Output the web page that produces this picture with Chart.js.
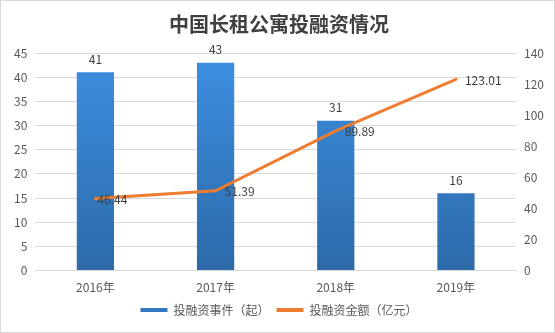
<!DOCTYPE html>
<html>
<head>
<meta charset="utf-8">
<script src="https://cdn.jsdelivr.net/npm/chart.js@4/dist/chart.umd.min.js"></script>
<style>
  html, body { margin: 0; padding: 0; background: #fff; }
  #wrap { width: 555px; height: 333px; position: relative; }
</style>
</head>
<body>
<div id="wrap"><canvas id="chart"></canvas></div>
<script>
const years = ['2016年', '2017年', '2018年', '2019年'];
const dealCounts = [41, 43, 31, 16];
const dealAmounts = [46.44, 51.39, 89.89, 123.01];
const leftTicks = { min: 0, max: 45, step: 5 };
const rightTicks = { min: 0, max: 140, step: 20 };

const FONT = '"Noto Sans CJK SC", "Microsoft YaHei", sans-serif';
const TEXT = '#595959';
const GRID = '#d9d9d9';

function barGradient(ctx) {
  const area = ctx.chart.chartArea;
  if (!area) return '#3a85d4';
  const g = ctx.chart.ctx.createLinearGradient(0, area.top, 0, area.bottom);
  g.addColorStop(0, '#3d8fe2');
  g.addColorStop(1, '#2d6aa9');
  return g;
}

// outer frame
const frame = {
  id: 'frame',
  beforeDraw(chart) {
    const c = chart.ctx;
    c.save();
    c.fillStyle = '#fff';
    c.fillRect(0, 0, chart.width, chart.height);
    c.strokeStyle = GRID;
    c.lineWidth = 1;
    c.strokeRect(0.5, 0.5, chart.width - 1, chart.height - 1);
    c.restore();
  }
};

// value labels on bars and line points
const valueLabels = {
  id: 'valueLabels',
  afterDatasetsDraw(chart) {
    const c = chart.ctx;
    c.save();
    c.font = '12px ' + FONT;
    c.fillStyle = '#404040';
    c.textBaseline = 'middle';
    chart.getDatasetMeta(0).data.forEach((bar, i) => {
      c.textAlign = 'center';
      c.fillText(String(dealCounts[i]), bar.x, bar.y - 13);
    });
    chart.getDatasetMeta(1).data.forEach((pt, i) => {
      c.textAlign = 'left';
      const dx = i === 0 ? 2 : 9;
      c.fillText(dealAmounts[i].toFixed(2), pt.x + dx, pt.y + 1);
    });
    c.restore();
  }
};

new Chart(document.getElementById('chart'), {
  data: {
    labels: years,
    datasets: [
      {
        type: 'bar',
        label: '投融资事件（起）',
        data: dealCounts,
        yAxisID: 'y',
        backgroundColor: barGradient,
        categoryPercentage: 1,
        barPercentage: 0.31,
        order: 2
      },
      {
        type: 'line',
        label: '投融资金额（亿元）',
        data: dealAmounts,
        yAxisID: 'y1',
        borderColor: '#ed7d31',
        backgroundColor: '#ed7d31',
        borderWidth: 3,
        borderCapStyle: 'round',
        pointRadius: 0,
        tension: 0,
        order: 1
      }
    ]
  },
  options: {
    responsive: true,
    maintainAspectRatio: false,
    animation: false,
    layout: { padding: { left: 6, right: 3, top: 10, bottom: 7 } },
    plugins: {
      title: {
        display: true,
        text: '中国长租公寓投融资情况',
        color: '#404040',
        font: { family: FONT, size: 20, weight: 'bold' },
        padding: { top: 2, bottom: 17 }
      },
      legend: {
        position: 'bottom',
        labels: {
          color: TEXT,
          font: { family: FONT, size: 12 },
          boxWidth: 27,
          boxHeight: 4,
          padding: 7,
          generateLabels(chart) {
            return chart.data.datasets.map((ds, i) => ({
              text: ds.label,
              fillStyle: i === 0 ? '#3478c4' : '#ed7d31',
              strokeStyle: i === 0 ? '#3478c4' : '#ed7d31',
              lineWidth: 0,
              datasetIndex: i,
              fontColor: TEXT
            }));
          }
        }
      },
      tooltip: { enabled: false }
    },
    scales: {
      x: {
        grid: { display: false },
        border: { display: true, color: GRID },
        ticks: { color: TEXT, font: { family: FONT, size: 12 }, padding: 2 }
      },
      y: {
        position: 'left',
        min: leftTicks.min,
        max: leftTicks.max,
        ticks: { stepSize: leftTicks.step, color: TEXT, font: { family: FONT, size: 12 }, padding: 8 },
        grid: { color: GRID, drawTicks: false },
        border: { display: false }
      },
      y1: {
        position: 'right',
        min: rightTicks.min,
        max: rightTicks.max,
        ticks: { stepSize: rightTicks.step, color: TEXT, font: { family: FONT, size: 12 }, padding: 8 },
        grid: { drawOnChartArea: false, drawTicks: false },
        border: { display: false }
      }
    }
  },
  plugins: [frame, valueLabels]
});
</script>
</body>
</html>
